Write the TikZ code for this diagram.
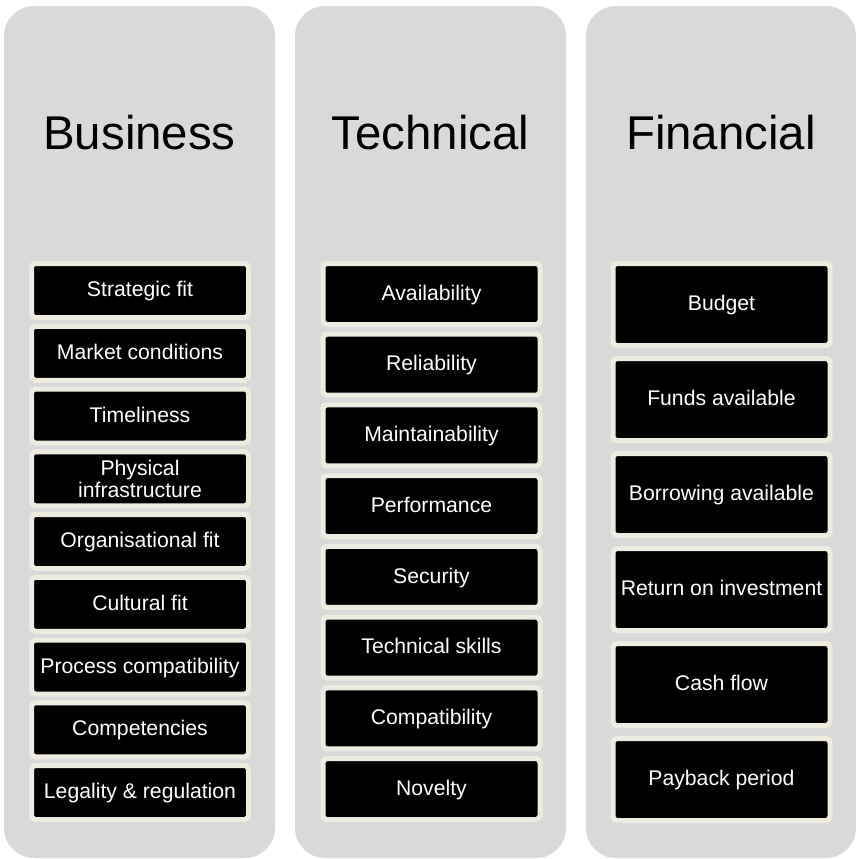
\documentclass[tikz,border=0pt]{standalone}
\usepackage{fontspec}
\setmainfont{Liberation Sans}
\definecolor{panelgray}{HTML}{D9D9D9}
\definecolor{cream}{HTML}{EEECE1}
\begin{document}
\begin{tikzpicture}[x=0.5pt, y=-0.5pt,
		panel/.style={fill=panelgray, rounded corners=15pt, minimum width=135.5pt, minimum height=426pt, inner sep=0pt, outer sep=0pt},
		heading/.style={anchor=base, font=\fontsize{23.7}{28}\selectfont},
		factor/.style={draw=cream, line width=2.5pt, fill=black, text=white, rounded corners=2pt, minimum width=108.5pt, inner sep=1pt, align=center, text height=0.72em, text depth=0.1em, font=\fontsize{10.6}{11.2}\selectfont},
		bizbox/.style={factor, minimum height=27pt},
		techbox/.style={factor, minimum height=30.5pt},
		finbox/.style={factor, minimum height=41pt}]
	\useasboundingbox (0,0) rectangle (856,859);
	
	% 1. 三个灰色底板
	\node[panel] (bizpanel) at (139.5,432) {};
	\node[panel] (techpanel) at (430.5,432) {};
	\node[panel, minimum width=135pt] (finpanel) at (721,432) {};
	
	% 2. 标题
	\node[heading] (business) at (139.5,149.5) {Business};
	\node[heading] (technical) at (430.5,149.5) {Technical};
	\node[heading] (financial) at (721,149.5) {Financial};
	
	% 3. Business 列
	\node[bizbox] (strat) at (140,290.5) {Strategic fit};
	\node[bizbox] (market) at (140,353.25) {Market conditions};
	\node[bizbox] (timely) at (140,416) {Timeliness};
	\node[bizbox, text height=, text depth=] (infra) at (140,478.75) {Physical\\infrastructure};
	\node[bizbox] (orgfit) at (140,541.5) {Organisational fit};
	\node[bizbox] (cultfit) at (140,604.25) {Cultural fit};
	\node[bizbox] (process) at (140,667) {Process compatibility};
	\node[bizbox] (compet) at (140,729.75) {Competencies};
	\node[bizbox] (legal) at (140,792.5) {Legality \& regulation};
	
	% 4. Technical 列
	\node[techbox] (avail) at (431.5,294) {Availability};
	\node[techbox] (reliab) at (431.5,364.7) {Reliability};
	\node[techbox] (maint) at (431.5,435.4) {Maintainability};
	\node[techbox] (perf) at (431.5,506.1) {Performance};
	\node[techbox] (secur) at (431.5,576.9) {Security};
	\node[techbox] (skills) at (431.5,647.6) {Technical skills};
	\node[techbox] (compat) at (431.5,718.3) {Compatibility};
	\node[techbox] (novel) at (431.5,789) {Novelty};
	
	% 5. Financial 列
	\node[finbox] (budget) at (721.5,304.5) {Budget};
	\node[finbox] (funds) at (721.5,399.5) {Funds available};
	\node[finbox] (borrow) at (721.5,494.5) {Borrowing available};
	\node[finbox] (roi) at (721.5,589.5) {Return on investment};
	\node[finbox] (cash) at (721.5,684.5) {Cash flow};
	\node[finbox] (payback) at (721.5,779.5) {Payback period};
\end{tikzpicture}
\end{document}
